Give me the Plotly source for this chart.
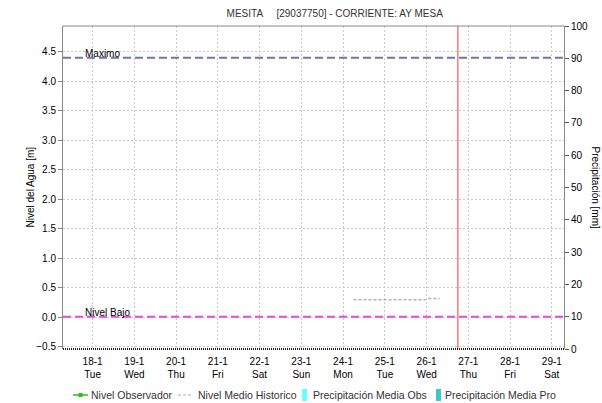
import plotly.graph_objects as go

# ---- data ----
title_text = "MESITA &nbsp;&nbsp;&nbsp; [29037750] - CORRIENTE: AY MESA"
tick_dates = ["2022-01-18", "2022-01-19", "2022-01-20", "2022-01-21", "2022-01-22", "2022-01-23",
              "2022-01-24", "2022-01-25", "2022-01-26", "2022-01-27", "2022-01-28", "2022-01-29"]
tick_days = ["18-1", "19-1", "20-1", "21-1", "22-1", "23-1", "24-1", "25-1", "26-1", "27-1", "28-1", "29-1"]
tick_wd = ["Tue", "Wed", "Thu", "Fri", "Sat", "Sun", "Mon", "Tue", "Wed", "Thu", "Fri", "Sat"]
x_range = ["2022-01-17 07:00", "2022-01-29 07:00"]

# no observed / precipitation values in this period (empty series)
obs_x, obs_y = ["2022-01-26 18:00"], [None]
hist_x = ["2022-01-24 06:00", "2022-01-25 00:00", "2022-01-25 23:30", "2022-01-26 00:00",
          "2022-01-26 01:00", "2022-01-26 07:30"]
hist_y = [0.30, 0.30, 0.30, None, 0.32, 0.32]
precip_obs_x, precip_obs_y = ["2022-01-26"], [None]
precip_pro_x, precip_pro_y = ["2022-01-26"], [None]

nivel_maximo = 4.40
nivel_bajo = 0.01
now_time = "2022-01-26 18:00"

y_range = [-0.535, 4.94]
y2_range = [0, 100]

series_names = ["Nivel Observador", "Nivel Medio Historico",
                "Precipitación Media Obs", "Precipitación Media Pro"]
series_colors = ["#33BB22", "#B0B0B0", "#66FFFF", "#40C8C8"]

FONT = "Liberation Sans"
W, H = 602, 403
ML, MR, MT, MB = 63, 38, 26, 54
PW, PH = W - ML - MR, H - MT - MB


def px_x(p):
    return (p - ML) / PW


def px_y(p):
    return (H - MB - p) / PH


fig = go.Figure()
fig.add_trace(go.Scatter(x=obs_x, y=obs_y, name=series_names[0], mode="lines+markers",
                         line=dict(color=series_colors[0], width=1.5),
                         marker=dict(symbol="square", size=4, color=series_colors[0])))
fig.add_trace(go.Scatter(x=hist_x, y=hist_y, name=series_names[1], mode="lines",
                         connectgaps=False,
                         line=dict(color=series_colors[1], width=1.5, dash="3px,2px")))
fig.add_trace(go.Bar(x=precip_obs_x, y=precip_obs_y, name=series_names[2],
                     marker_color=series_colors[2], yaxis="y2"))
fig.add_trace(go.Bar(x=precip_pro_x, y=precip_pro_y, name=series_names[3],
                     marker_color=series_colors[3], yaxis="y2"))

tick_text = [f"{d}<br>{w}" for d, w in zip(tick_days, tick_wd)]

shapes = [
    dict(type="line", xref="paper", x0=0, x1=1, yref="y", y0=nivel_maximo, y1=nivel_maximo,
         line=dict(color="#6A78A8", width=2, dash="8px,4px")),
    dict(type="line", xref="paper", x0=0, x1=1, yref="y", y0=nivel_bajo, y1=nivel_bajo,
         line=dict(color="#EE44EE", width=2, dash="8px,4px")),
    dict(type="line", xref="x", x0=now_time, x1=now_time, yref="paper", y0=0, y1=1,
         line=dict(color="#FF3333", width=1)),
    dict(type="line", xref="paper", x0=0, x1=1, yref="paper", y0=1, y1=1,
         line=dict(color="#888888", width=1)),
    dict(type="line", xref="paper", x0=0, x1=1, yref="paper", y0=0, y1=0,
         line=dict(color="#222222", width=2, dash="1px,1px")),
]

annotations = [
    dict(text="Maximo", x=0.04, xref="paper", y=nivel_maximo, yref="y", xanchor="left",
         yanchor="bottom", showarrow=False, font=dict(size=10, color="#000000", family=FONT),
         yshift=-3),
    dict(text="Nivel Bajo", x=0.04, xref="paper", y=nivel_bajo, yref="y", xanchor="left",
         yanchor="bottom", showarrow=False, font=dict(size=10, color="#000000", family=FONT),
         yshift=-3),
    dict(text="Nivel del Agua [m]", x=0.0, xref="paper", xshift=-33, xanchor="center",
         y=0.5, yref="paper", yanchor="middle",
         textangle=-90, showarrow=False, font=dict(size=10, color="#000000", family=FONT)),
    dict(text="Precipitación [mm]", x=1.0, xref="paper", xshift=31, xanchor="center",
         y=0.5, yref="paper", yanchor="middle",
         textangle=90, showarrow=False, font=dict(size=10, color="#000000", family=FONT)),
]

# ---- compact single-row legend (like the original) ----
LEG_Y = 395
leg_sym_x = [73, 178, 302, 436]
leg_txt_x = [89, 196, 311, 443]
# line symbols
shapes.append(dict(type="line", xref="paper", yref="paper",
                   x0=px_x(leg_sym_x[0]), x1=px_x(leg_sym_x[0] + 15),
                   y0=px_y(LEG_Y), y1=px_y(LEG_Y),
                   line=dict(color=series_colors[0], width=1.5)))
shapes.append(dict(type="rect", xref="paper", yref="paper",
                   x0=px_x(leg_sym_x[0] + 5.5), x1=px_x(leg_sym_x[0] + 9.5),
                   y0=px_y(LEG_Y - 2), y1=px_y(LEG_Y + 2),
                   fillcolor=series_colors[0], line=dict(width=0)))
shapes.append(dict(type="line", xref="paper", yref="paper",
                   x0=px_x(leg_sym_x[1]), x1=px_x(leg_sym_x[1] + 15),
                   y0=px_y(LEG_Y), y1=px_y(LEG_Y),
                   line=dict(color="#C8C8C8", width=1.5, dash="3px,2px")))
# bar symbols
for i in (2, 3):
    shapes.append(dict(type="rect", xref="paper", yref="paper",
                       x0=px_x(leg_sym_x[i]), x1=px_x(leg_sym_x[i] + 5),
                       y0=px_y(LEG_Y + 6), y1=px_y(LEG_Y - 6),
                       fillcolor=series_colors[i], line=dict(width=0)))
for i, name in enumerate(series_names):
    annotations.append(dict(text=name, xref="paper", yref="paper",
                            x=px_x(leg_txt_x[i]), y=px_y(LEG_Y),
                            xanchor="left", yanchor="middle", showarrow=False,
                            font=dict(size=10.5, color="#333333", family=FONT)))

fig.update_layout(
    width=W, height=H,
    margin=dict(l=ML, r=MR, t=MT, b=MB, autoexpand=False),
    paper_bgcolor="white", plot_bgcolor="white",
    font=dict(family=FONT, size=10, color="#000000"),
    title=dict(text=title_text, x=0.556, xanchor="center", xref="container",
               y=0.975, yanchor="top", font=dict(size=10, color="#333333", family=FONT)),
    showlegend=False,
    shapes=shapes,
    annotations=annotations,
    xaxis=dict(type="date", range=x_range, tickmode="array", tickvals=tick_dates,
               ticktext=tick_text, showgrid=True, gridcolor="#C8C8C8", griddash="2px,2px",
               gridwidth=1, showline=False, ticks="", zeroline=False, automargin=False,
               ticklabelstandoff=5,
               tickfont=dict(size=10, color="#000000")),
    yaxis=dict(range=y_range, tickmode="linear", tick0=0, dtick=0.5, tickformat=".1f",
               showgrid=True, gridcolor="#C8C8C8", griddash="2px,2px", gridwidth=1,
               showline=True, linecolor="#888888", linewidth=1, ticks="outside", ticklen=4,
               tickcolor="#888888", zeroline=False, automargin=False,
               tickfont=dict(size=10, color="#000000")),
    yaxis2=dict(range=y2_range, overlaying="y", side="right", tickmode="linear", tick0=0,
                dtick=10, showgrid=False, showline=True, linecolor="#888888", linewidth=1,
                ticks="outside", ticklen=4, tickcolor="#555555", zeroline=False,
                automargin=False, tickfont=dict(size=10, color="#000000")),
)

fig.write_html("out.html", config={"displayModeBar": False},
               post_script="document.body.style.margin='0px';")
